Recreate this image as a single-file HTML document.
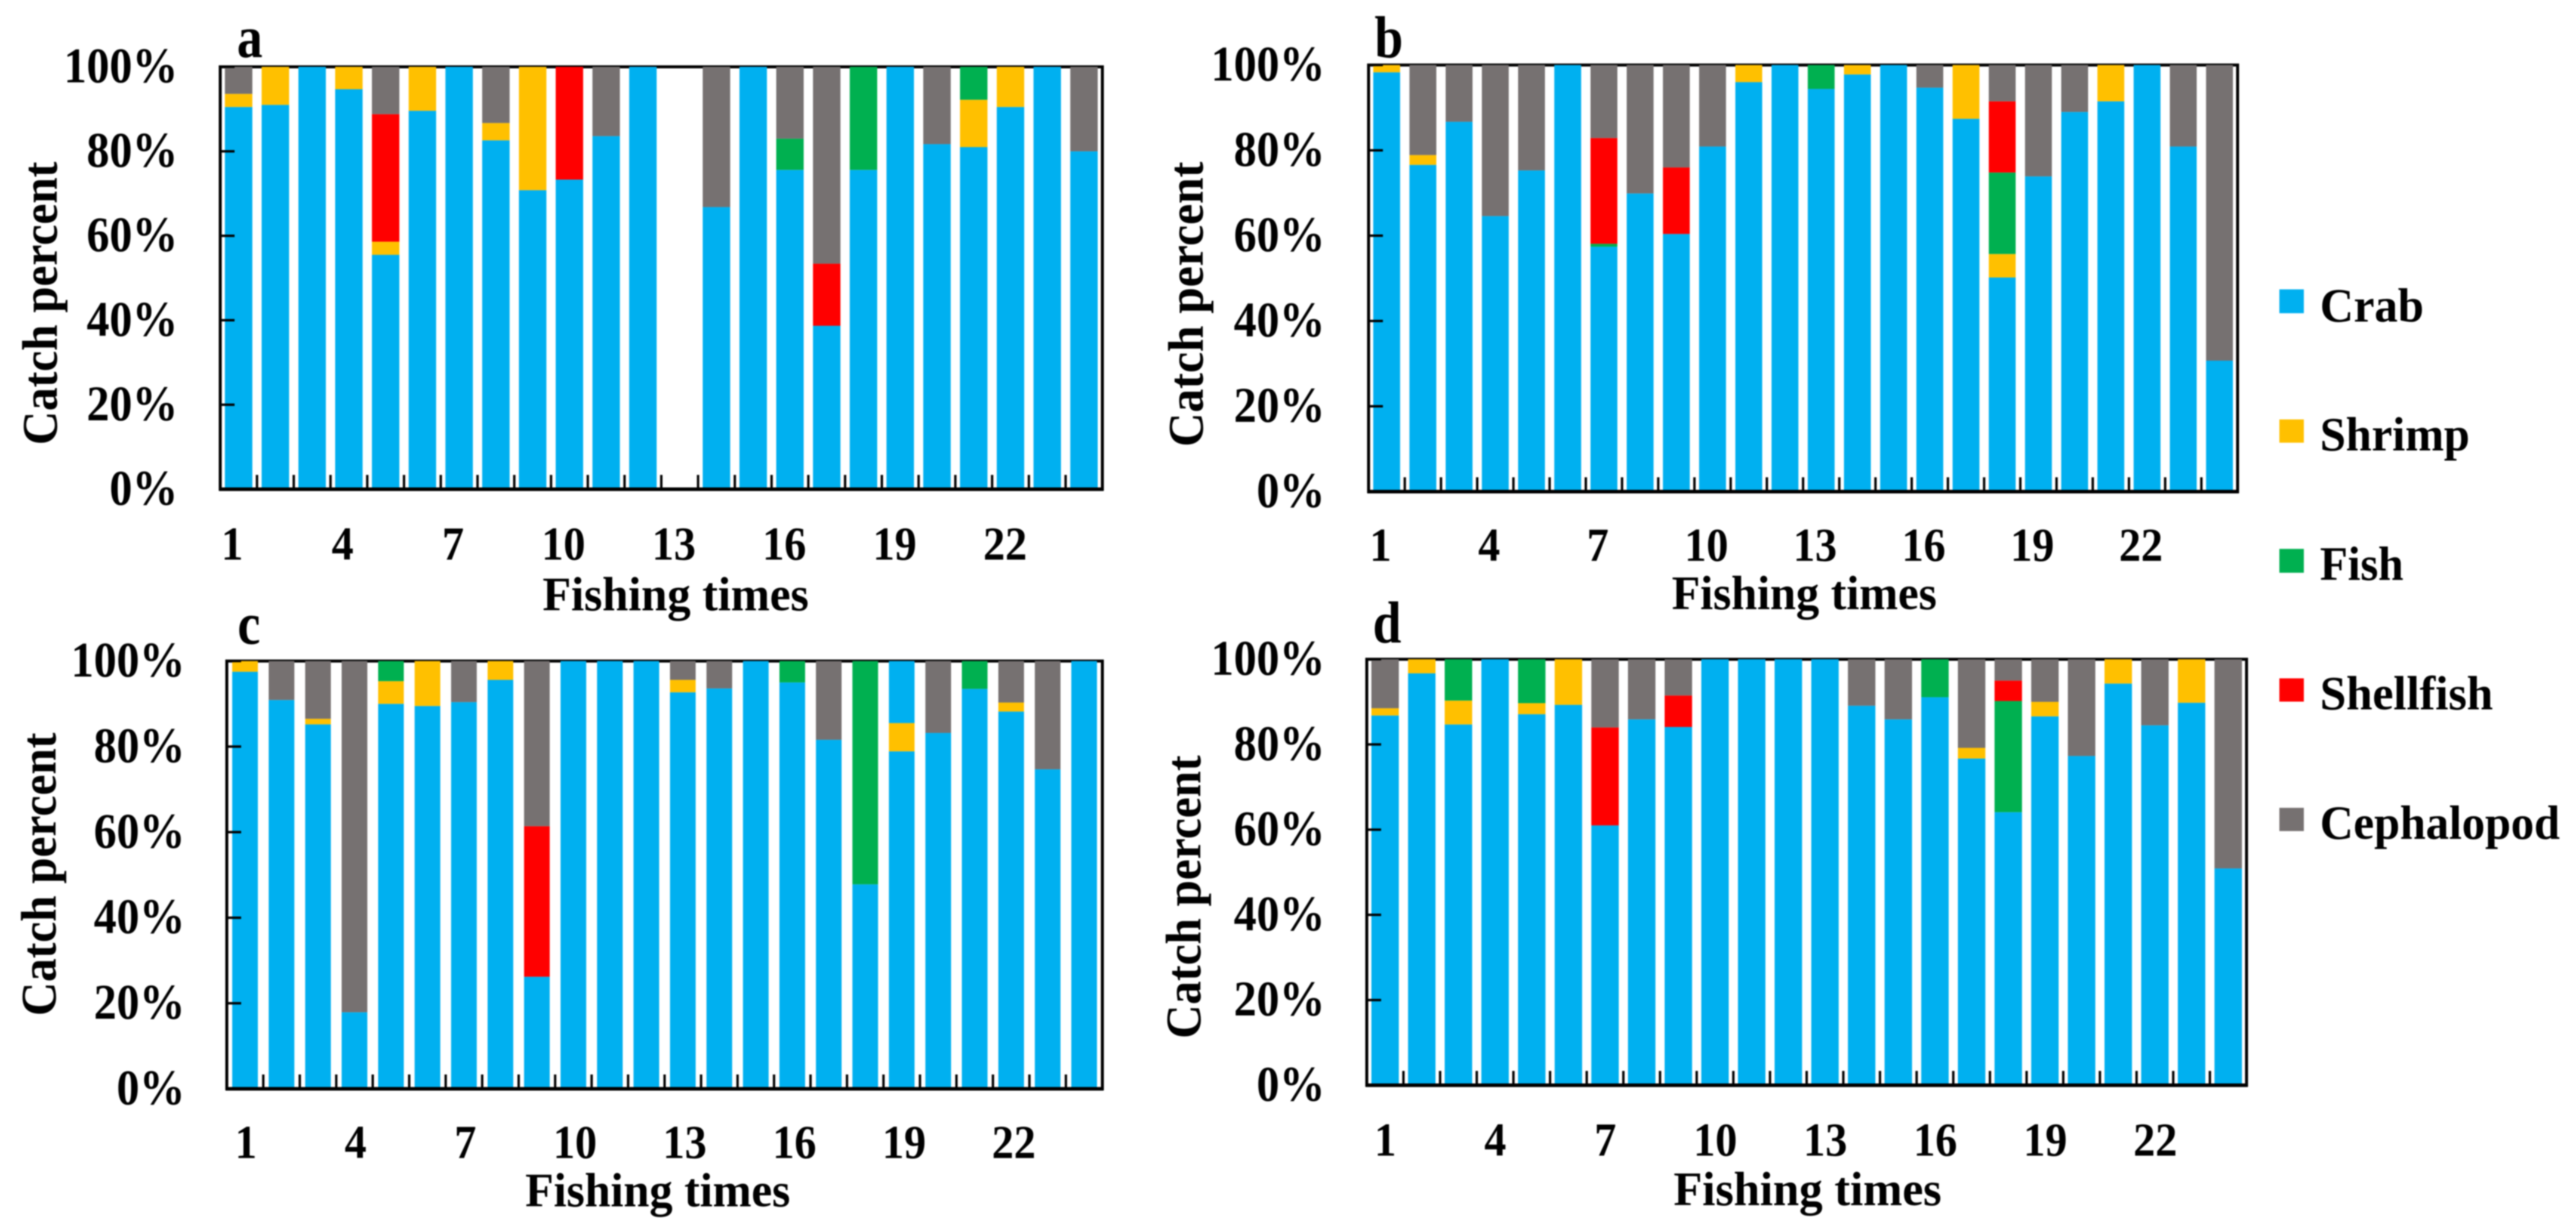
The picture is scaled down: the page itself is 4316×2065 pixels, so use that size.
<!DOCTYPE html>
<html lang="en">
<head>
<meta charset="utf-8">
<title>Catch percent by fishing times</title>
<style>
html,body{margin:0;padding:0;background:#fff;width:4316px;height:2065px;overflow:hidden}
svg{display:block;filter:blur(1px)}
text{font-family:"Liberation Serif",serif;font-weight:bold;fill:#000}
</style>
</head>
<body>
<svg id="chart" xmlns="http://www.w3.org/2000/svg" width="4316" height="2065" viewBox="0 0 4316 2065">
<rect width="4316" height="2065" fill="#fff"/>
<g id="panels"></g>

<text font-size="100" transform="translate(397,96) scale(.86,1)">a</text>
<text font-size="100" transform="translate(2303,96) scale(.86,1)">b</text>
<text font-size="100" transform="translate(398,1079) scale(.86,1)">c</text>
<text font-size="100" transform="translate(2300,1077) scale(.86,1)">d</text>

<text font-size="84" textLength="475" lengthAdjust="spacingAndGlyphs" transform="translate(95,746) rotate(-90)">Catch percent</text>
<text font-size="84" textLength="478" lengthAdjust="spacingAndGlyphs" transform="translate(2015,749) rotate(-90)">Catch percent</text>
<text font-size="84" textLength="475" lengthAdjust="spacingAndGlyphs" transform="translate(93,1703) rotate(-90)">Catch percent</text>
<text font-size="84" textLength="475" lengthAdjust="spacingAndGlyphs" transform="translate(2011,1741) rotate(-90)">Catch percent</text>

<text font-size="80" x="909" y="1023" textLength="446" lengthAdjust="spacingAndGlyphs">Fishing times</text>
<text font-size="80" x="2801" y="1021" textLength="444" lengthAdjust="spacingAndGlyphs">Fishing times</text>
<text font-size="80" x="880" y="2022" textLength="444" lengthAdjust="spacingAndGlyphs">Fishing times</text>
<text font-size="80" x="2804" y="2020" textLength="449" lengthAdjust="spacingAndGlyphs">Fishing times</text>

<g>
  <g>
    <rect x="3819" y="485" width="41" height="40" fill="#00B0F0"/>
    <text font-size="80" x="3887" y="539" textLength="174" lengthAdjust="spacingAndGlyphs">Crab</text>
  </g>
  <g>
    <rect x="3819" y="703" width="41" height="39" fill="#FFC000"/>
    <text font-size="80" x="3887" y="755" textLength="251" lengthAdjust="spacingAndGlyphs">Shrimp</text>
  </g>
  <g>
    <rect x="3819" y="920" width="41" height="40" fill="#00B050"/>
    <text font-size="80" x="3887" y="972" textLength="140" lengthAdjust="spacingAndGlyphs">Fish</text>
  </g>
  <g>
    <rect x="3819" y="1137" width="41" height="39" fill="#FF0000"/>
    <text font-size="80" x="3887" y="1189" textLength="290" lengthAdjust="spacingAndGlyphs">Shellfish</text>
  </g>
  <g>
    <rect x="3819" y="1354" width="41" height="39" fill="#767171"/>
    <text font-size="80" x="3887" y="1406" textLength="402" lengthAdjust="spacingAndGlyphs">Cephalopod</text>
  </g>
</g>
</svg>

<script>
const yTickValues = [0, 20, 40, 60, 80, 100];
const yTickLabels = ['0%', '20%', '40%', '60%', '80%', '100%'];
const xTickLabels = ['1', '4', '7', '10', '13', '16', '19', '22'];

const aCrab = [90.5,91,100,94.7,55.5,89.6,100,82.6,70.8,73.3,83.6,100,0,66.8,100,75.6,38.7,75.6,100,81.7,81,90.5,100,80];
const aShrimp = [3.1,9,0,5.3,3.1,10.4,0,4.1,29.2,0,0,0,0,0,0,0,0,0,0,0,11.2,9.5,0,0];
const aFish = [0,0,0,0,0,0,0,0,0,0,0,0,0,0,0,7.4,0,24.4,0,0,7.8,0,0,0];
const aShellfish = [0,0,0,0,30.2,0,0,0,0,26.7,0,0,0,0,0,0,14.7,0,0,0,0,0,0,0];
const aCephalopod = [6.4,0,0,0,11.2,0,0,13.3,0,0,16.4,0,0,33.2,0,17,46.6,0,0,18.3,0,0,0,20];
const aCrabUpper = [0,0,0,0,0,0,0,0,0,0,0,0,0,0,0,0,0,0,0,0,0,0,0,0];

const bCrab = [98.3,76.6,86.7,64.6,75.3,100,57.4,69.9,60.4,80.9,96,100,94.4,97.8,100,94.7,87.4,50.2,73.9,89,91.5,100,80.9,30.7];
const bShrimp = [1.7,2.3,0,0,0,0,0,0,0,0,4,0,0,2.2,0,0,12.6,5.5,0,0,8.5,0,0,0];
const bFish = [0,0,0,0,0,0,0.7,0,0,0,0,0,5.6,0,0,0,0,19.1,0,0,0,0,0,0];
const bShellfish = [0,0,0,0,0,0,24.8,0,15.6,0,0,0,0,0,0,0,0,16.7,0,0,0,0,0,0];
const bCephalopod = [0,21.1,13.3,35.4,24.7,0,17.1,30.1,24,19.1,0,0,0,0,0,5.3,0,8.5,26.1,11,0,0,19.1,69.3];
const bCrabUpper = [0,0,0,0,0,0,0,0,0,0,0,0,0,0,0,0,0,0,0,0,0,0,0,0];

const cCrab = [97.5,90.9,85.2,17.9,90,89.5,90.4,95.6,26.2,100,100,100,92.7,93.6,100,95,81.6,47.8,78.9,83.2,93.5,88.2,74.7,100];
const cShrimp = [2.5,0,1.3,0,5.3,10.5,0,4.4,0,0,0,0,2.9,0,0,0,0,0,6.6,0,0,2.1,0,0];
const cFish = [0,0,0,0,4.7,0,0,0,0,0,0,0,0,0,0,5,0,52.2,0,0,6.5,0,0,0];
const cShellfish = [0,0,0,0,0,0,0,0,35.2,0,0,0,0,0,0,0,0,0,0,0,0,0,0,0];
const cCephalopod = [0,9.1,13.5,82.1,0,0,9.6,0,38.6,0,0,0,4.4,6.4,0,0,18.4,0,0,16.8,0,9.7,25.3,0];
const cCrabUpper = [0,0,0,0,0,0,0,0,0,0,0,0,0,0,0,0,0,0,14.5,0,0,0,0,0];

const dCrab = [86.8,96.7,84.7,100,87.1,89.3,61,85.9,84.1,100,100,100,100,89.1,85.9,91.1,76.7,64.1,86.6,77.3,94.3,84.5,89.8,50.9];
const dShrimp = [1.7,3.3,5.6,0,2.6,10.7,0,0,0,0,0,0,0,0,0,0,2.5,0,3.4,0,5.7,0,10.2,0];
const dFish = [0,0,9.7,0,10.3,0,0,0,0,0,0,0,0,0,0,8.9,0,26.1,0,0,0,0,0,0];
const dShellfish = [0,0,0,0,0,0,23,0,7.4,0,0,0,0,0,0,0,0,4.8,0,0,0,0,0,0];
const dCephalopod = [11.5,0,0,0,0,0,16,14.1,8.5,0,0,0,0,10.9,14.1,0,20.8,5,10,22.7,0,15.5,0,49.1];
const dCrabUpper = [0,0,0,0,0,0,0,0,0,0,0,0,0,0,0,0,0,0,0,0,0,0,0,0];

const NS = 'http://www.w3.org/2000/svg';
const root = document.getElementById('panels');
const colors = { crab: '#00B0F0', shrimp: '#FFC000', fish: '#00B050', shellfish: '#FF0000', cephalopod: '#767171', crabUpper: '#00B0F0' };

function shape(parent, tag, props) {
  const el = document.createElementNS(NS, tag);
  for (const k in props) el.setAttribute(k, props[k]);
  parent.appendChild(el);
  return el;
}

function drawPanel(id, layout, series) {
  const g = shape(root, 'g', {});
  
  

  const plotW = layout.right - layout.left;
  const plotH = layout.bottom - layout.top;
  const count = series.crab.length;
  const pitch = plotW / count;
  const xCenter = i => layout.left + (i + 0.5) * pitch;
  const yScale = v => layout.bottom - (v / 100) * plotH;

  const frame = shape(g, 'rect', { x: layout.left, y: layout.top, width: plotW, height: plotH, fill: 'none', stroke: '#000', 'stroke-width': 5 });
  
  

  const order = ['crab', 'shrimp', 'fish', 'shellfish', 'cephalopod', 'crabUpper'];
  for (let i = 0; i < count; i++) {
    let base = 0;
    order.forEach(key => {
      const v = series[key][i];
      if (!v) return;
      const bar = shape(g, 'rect', {
        x: xCenter(i) - layout.barW / 2,
        y: yScale(base + v),
        width: layout.barW,
        height: yScale(base) - yScale(base + v),
        fill: colors[key]
      });
      
      
      base += v;
    });
  }

  const baseLine = shape(g, 'line', { x1: layout.left - 2, x2: layout.right + 2, y1: layout.bottom, y2: layout.bottom, stroke: '#000', 'stroke-width': 6 });
  
  

  for (let i = 1; i < count; i++) {
    const tx = layout.left + i * pitch;
    const tick = shape(g, 'line', { x1: tx, x2: tx, y1: layout.bottom, y2: layout.bottom - 24, stroke: '#000', 'stroke-width': 4 });
    
    
  }

  yTickValues.forEach((v, i) => {
    const ty = yScale(v);
    const tick = shape(g, 'line', { x1: layout.left, x2: layout.left + 24, y1: ty, y2: ty, stroke: '#000', 'stroke-width': 4 });
    
    
    const label = shape(g, 'text', {
      'font-size': 84,
      'text-anchor': 'end',
      transform: 'translate(' + layout.yLabelRight + ',' + (ty + 26) + ') scale(.91,1)'
    });
    label.textContent = yTickLabels[i];
    
    
  });

  xTickLabels.forEach((t, i) => {
    const label = shape(g, 'text', {
      'font-size': 80,
      'text-anchor': 'middle',
      transform: 'translate(' + (layout.xLabelStart + i * layout.xLabelPitch) + ',' + layout.xLabelBase + ') scale(.92,1)'
    });
    label.textContent = t;
    
    
  });
}

drawPanel('a',
  { left: 369, right: 1847, top: 112, bottom: 820, barW: 46, yLabelRight: 298, xLabelStart: 389, xLabelPitch: 185, xLabelBase: 938 },
  { crab: aCrab, shrimp: aShrimp, fish: aFish, shellfish: aShellfish, cephalopod: aCephalopod, crabUpper: aCrabUpper });
drawPanel('b',
  { left: 2293, right: 3749, top: 109, bottom: 824, barW: 45, yLabelRight: 2220, xLabelStart: 2313, xLabelPitch: 182, xLabelBase: 940 },
  { crab: bCrab, shrimp: bShrimp, fish: bFish, shellfish: bShellfish, cephalopod: bCephalopod, crabUpper: bCrabUpper });
drawPanel('c',
  { left: 380, right: 1847, top: 1108, bottom: 1825, barW: 43, yLabelRight: 310, xLabelStart: 412, xLabelPitch: 183.8, xLabelBase: 1941 },
  { crab: cCrab, shrimp: cShrimp, fish: cFish, shellfish: cShellfish, cephalopod: cCephalopod, crabUpper: cCrabUpper });
drawPanel('d',
  { left: 2290, right: 3764, top: 1105, bottom: 1819, barW: 46, yLabelRight: 2220, xLabelStart: 2321, xLabelPitch: 184.3, xLabelBase: 1937 },
  { crab: dCrab, shrimp: dShrimp, fish: dFish, shellfish: dShellfish, cephalopod: dCephalopod, crabUpper: dCrabUpper });
</script>
</body>
</html>
